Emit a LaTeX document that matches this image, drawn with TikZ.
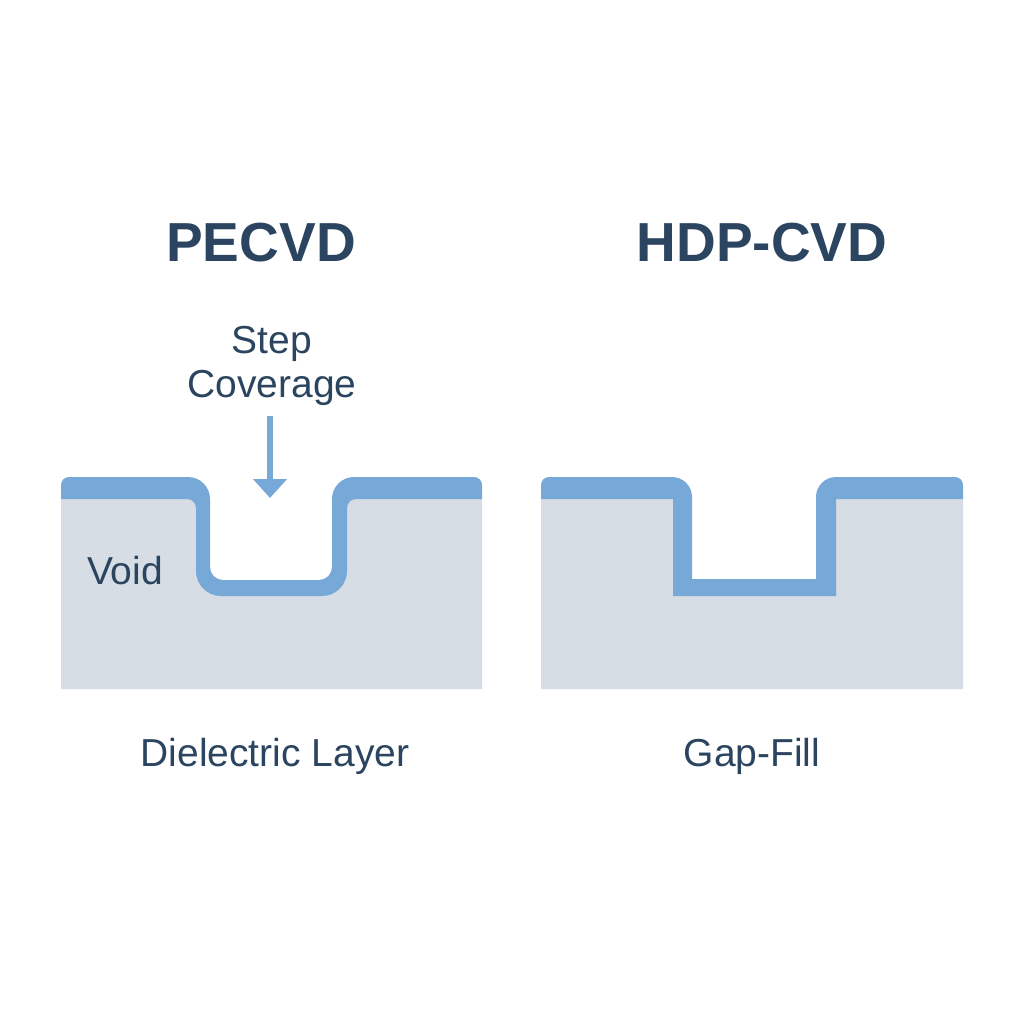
\documentclass[tikz,border=0pt]{standalone}
\usepackage{fontspec}
\setmainfont{Liberation Sans}
\usetikzlibrary{arrows.meta}
\definecolor{inkblue}{HTML}{2B4560}
\definecolor{filmblue}{HTML}{76A8D8}
\definecolor{bulkgray}{HTML}{D6DDE4}
\tikzset{
	title/.style={text=inkblue,font=\fontsize{55}{60}\selectfont\bfseries,inner sep=0pt},
	label/.style={text=inkblue,font=\fontsize{39}{44}\selectfont,inner sep=0pt,align=center},
	film/.style={fill=filmblue,draw=none},
	bulk/.style={fill=bulkgray,draw=none},
}
\begin{document}
\begin{tikzpicture}[x=1pt,y=-1pt]
	    \useasboundingbox (0,0) rectangle (1024,1024);
	    \fill[white] (0,0) rectangle (1024,1024);
	    % left trench
	    \fill[bulk] (61,499) -- (203,499) [rounded corners=15] -- (203,588) -- (340,588) [sharp corners] -- (340,499) -- (482,499) -- (482,689) -- (61,689) -- cycle;
	    \fill[film] (61,499) [rounded corners=8] -- (61,477) [rounded corners=22] -- (210,477) [rounded corners=13] -- (210,580) -- (332,580) [rounded corners=22] -- (332,477) [rounded corners=8] -- (482,477) [sharp corners] -- (482,499) [rounded corners=9] -- (347,499) [rounded corners=25] -- (347,596) -- (196,596) [rounded corners=9] -- (196,499) [sharp corners] -- cycle;
	    % right trench
	    \fill[bulk] (541,499) -- (682,499) -- (682,588) -- (826,588) -- (826,499) -- (963,499) -- (963,689) -- (541,689) -- cycle;
	    \fill[film] (541,499) [rounded corners=8] -- (541,477) [rounded corners=20] -- (692,477) [sharp corners] -- (692,579) -- (816,579) [rounded corners=20] -- (816,477) [rounded corners=8] -- (963,477) [sharp corners] -- (963,499) -- (836,499) -- (836,596) -- (673,596) -- (673,499) -- cycle;
	    % texts
	    \node[title] (pecvd) at (261,243) {PECVD};
	    \node[title] (hdp) at (762,243) {HDP-CVD};
	    \node[label] (cov) at (272,366) {Step\\Coverage};
	    \node[label] (void) at (125,571) {Void};
	    \node[label] (diel) at (275,756) {Dielectric Layer};
	    \node[label] (gap) at (752,756) {Gap-Fill};
	    % arrow
	    \coordinate (tip) at (270,498);
	    \draw[filmblue,line width=5.5pt,-{Triangle[length=19pt,width=33pt]}] (tip |- 0,416) -- (tip);
\end{tikzpicture}
\end{document}
